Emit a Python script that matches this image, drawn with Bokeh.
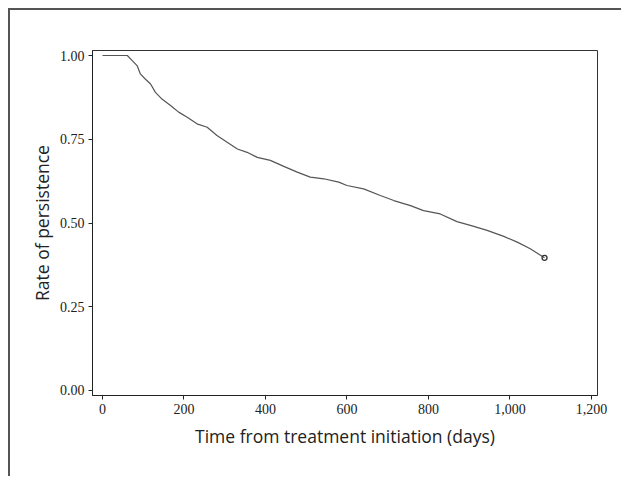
from bokeh.plotting import figure
from bokeh.models import Range1d, FixedTicker, NumeralTickFormatter
from bokeh.embed import file_html
from bokeh.resources import INLINE

# Kaplan-Meier style persistence curve
days = [0, 61, 73, 85, 93, 105, 118, 130, 146, 167, 187, 208, 232, 257, 281,
        306, 331, 355, 380, 412, 445, 478, 510, 543, 580, 600, 641, 682, 715,
        756, 788, 829, 870, 903, 944, 985, 1018, 1050, 1085]
persistence = [1.0, 1.0, 0.985, 0.970, 0.945, 0.930, 0.915, 0.890, 0.870, 0.851,
               0.831, 0.816, 0.796, 0.786, 0.761, 0.741, 0.721, 0.711, 0.696,
               0.687, 0.669, 0.652, 0.637, 0.632, 0.622, 0.612, 0.602, 0.582,
               0.567, 0.552, 0.537, 0.527, 0.504, 0.493, 0.478, 0.460, 0.443,
               0.423, 0.396]
x_ticks = [0, 200, 400, 600, 800, 1000, 1200]
y_ticks = [0.0, 0.25, 0.5, 0.75, 1.0]

W, H = 613, 468
p = figure(width=W, height=H, output_backend="svg", toolbar_location=None,
           x_range=Range1d(-24.5, 1215), y_range=Range1d(-0.015, 1.015))
p.styles = {"margin-left": "8px", "margin-top": "8px",
            "border-top": "2px solid #555", "border-left": "2px solid #555"}

p.min_border_left = 82
p.min_border_top = 40
p.min_border_right = W - 587
p.min_border_bottom = H - 385

p.xgrid.visible = False
p.ygrid.visible = False
p.background_fill_color = "white"
p.border_fill_color = "white"
p.outline_line_color = "#333333"
p.outline_line_width = 1

p.line(days, persistence, line_color="#555555", line_width=1.2)
p.scatter([days[-1]], [persistence[-1]], marker="circle", size=5,
          fill_color=None, line_color="#333333", line_width=1.3)

for ax in (p.xaxis[0], p.yaxis[0]):
    ax.axis_line_color = "#222222"
    ax.major_tick_line_color = "#222222"
    ax.major_tick_in = 0
    ax.major_tick_out = 4
    ax.minor_tick_line_color = None
    ax.major_label_text_font = "Liberation Serif"
    ax.major_label_text_font_size = "14px"
    ax.major_label_text_color = "#222222"
    ax.axis_label_text_font = "Open Sans"
    ax.axis_label_text_font_size = "17.5px"
    ax.axis_label_text_font_style = "normal"
    ax.axis_label_text_color = "#222222"

p.xaxis.ticker = FixedTicker(ticks=x_ticks)
p.yaxis.ticker = FixedTicker(ticks=y_ticks)
p.xaxis.formatter = NumeralTickFormatter(format="0,0")
p.yaxis.formatter = NumeralTickFormatter(format="0.00")
p.xaxis.axis_label = "Time from treatment initiation (days)"
p.yaxis.axis_label = "Rate of persistence"
p.xaxis.major_label_standoff = 4
p.yaxis.major_label_standoff = 4
p.xaxis.axis_label_standoff = 7
p.yaxis.axis_label_standoff = 3

open("out.html", "w").write(file_html(p, INLINE))
